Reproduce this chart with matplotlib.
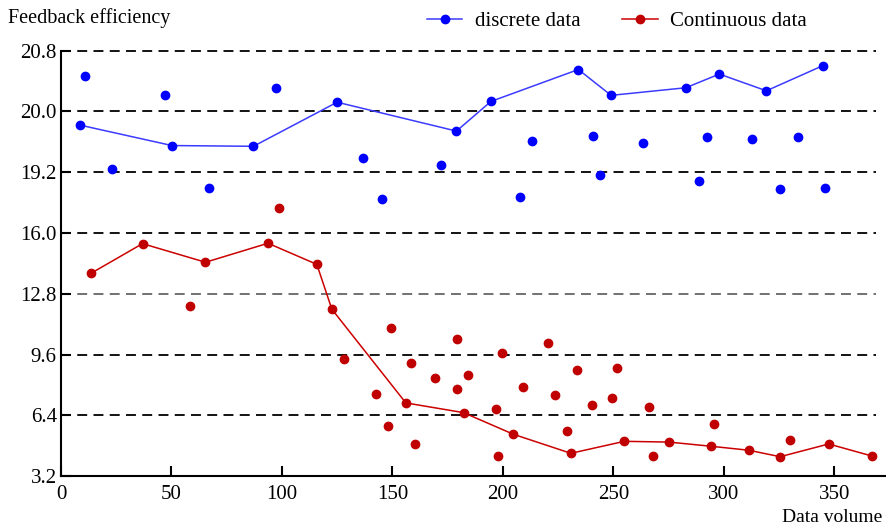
import numpy as np
import matplotlib
matplotlib.use('Agg')
import matplotlib.pyplot as plt
from matplotlib.lines import Line2D

plt.rcParams['font.family'] = ['Liberation Serif', 'DejaVu Serif']

# ------------------------------------------------------------------
# data
# ------------------------------------------------------------------
y_ticks = [3.2, 6.4, 9.6, 12.8, 16.0, 19.2, 20.0, 20.8]
x_ticks = [0, 50, 100, 150, 200, 250, 300, 350]

disc_line_x = [8.4, 50.2, 87.1, 125.0, 179.0, 194.6, 234.2, 249.0, 282.8, 298.0, 319.3, 344.8]
disc_line_y = [19.82, 19.55, 19.54, 20.12, 19.74, 20.13, 20.55, 20.21, 20.31, 20.49, 20.27, 20.60]

disc_pts_x = [10.9, 23.3, 47.2, 67.1, 97.1, 136.8, 145.5, 172.2, 207.6, 213.3,
              240.7, 243.8, 263.3, 289.0, 292.3, 312.8, 333.5, 325.6, 346.0]
disc_pts_y = [20.46, 19.24, 20.21, 18.35, 20.31, 19.38, 17.81, 19.29, 17.89, 19.61,
              19.67, 19.07, 19.59, 18.74, 19.66, 19.63, 19.66, 18.30, 18.38]

cont_line_x = [13.6, 36.9, 65.4, 93.7, 115.8, 122.6, 156.1, 182.2, 204.8, 230.8,
               255.0, 275.2, 294.3, 311.4, 325.5, 347.5, 367.0]
cont_line_y = [13.88, 15.44, 14.46, 15.46, 14.35, 11.99, 7.06, 6.55, 5.41, 4.41,
               5.04, 5.00, 4.78, 4.57, 4.23, 4.90, 4.27]

cont_pts_x = [98.9, 58.6, 128.3, 149.5, 142.5, 148.0, 160.2, 158.4, 169.5, 179.2,
              179.2, 184.3, 199.8, 197.0, 198.0, 208.9, 220.4, 223.8, 229.2, 233.6,
              240.3, 249.6, 251.9, 266.2, 268.1, 295.6, 330.1]
cont_pts_y = [17.31, 12.16, 9.39, 11.02, 7.53, 5.86, 4.88, 9.14, 8.36, 10.42,
              7.78, 8.53, 9.69, 6.74, 4.27, 7.90, 10.21, 7.48, 5.60, 8.79,
              6.97, 7.30, 8.88, 6.85, 4.27, 5.97, 5.09]


# piecewise axis: every tick gets the same height
tick_pos = np.arange(len(y_ticks), dtype=float)


def fwd(v):
    v = np.asarray(v, dtype=float)
    return np.interp(v, y_ticks, tick_pos, left=np.nan, right=np.nan)


def inv(p):
    p = np.asarray(p, dtype=float)
    return np.interp(p, tick_pos, y_ticks)


fig = plt.figure(figsize=(8.86, 5.26), dpi=100)
ax = fig.add_axes([61 / 886, 1 - 476.3 / 526, 1 - 61 / 886, (476.3 - 50.5) / 526])
ax.set_yscale('function', functions=(fwd, inv))

blue_line = '#3b3bff'
blue_dot = '#0000ff'
red_line = '#cc0000'
red_dot = '#c00000'

ax.plot(disc_line_x, disc_line_y, color=blue_line, lw=1.1, marker='o', ms=6,
        mfc=blue_dot, mec=blue_dot, zorder=4)
ax.plot(disc_pts_x, disc_pts_y, ls='none', marker='o', ms=6, mfc=blue_dot, mec=blue_dot, zorder=4)
ax.plot(cont_line_x, cont_line_y, color=red_line, lw=1.1, marker='o', ms=6,
        mfc=red_dot, mec=red_dot, zorder=4)
ax.plot(cont_pts_x, cont_pts_y, ls='none', marker='o', ms=6, mfc=red_dot, mec=red_dot, zorder=4)

x_max = (886 - 60.7) / 2.21
ax.set_xlim(0, x_max)
ax.set_ylim(3.2, 20.8)

for v in y_ticks[1:]:
    ax.axhline(v, xmax=(876 - 61) / (886 - 61), color='#666666' if v == 12.8 else 'black',
               lw=1.3, ls=(0, (5.5, 3.5)), zorder=1, clip_on=False)

ax.set_yticks(y_ticks)
ax.set_yticklabels([f'{v:.1f}' for v in y_ticks])
ax.yaxis.set_minor_locator(plt.NullLocator())
ax.set_xticks(x_ticks)
ax.tick_params(axis='both', direction='in', length=7, width=1.5, labelsize=15, colors='black')
ax.tick_params(axis='y', pad=3)
ax.tick_params(axis='x', pad=6)

for side in ['top', 'right']:
    ax.spines[side].set_visible(False)
for side in ['left', 'bottom']:
    ax.spines[side].set_linewidth(1.5)

fig.text(8 / 886, 1 - 18 / 526, 'Feedback efficiency', fontsize=14.5, va='center', ha='left')
fig.text(882 / 886, 1 - 518 / 526, 'Data volume', fontsize=14, va='center', ha='right')

handles = [
    Line2D([], [], color=blue_line, lw=1.1, marker='o', ms=6, mfc=blue_dot, mec=blue_dot),
    Line2D([], [], color=red_line, lw=1.1, marker='o', ms=6, mfc=red_dot, mec=red_dot),
]
fig.legend(handles, ['discrete data', 'Continuous data'], ncol=2, frameon=False,
           loc='center', bbox_to_anchor=(617 / 886, 1 - 21 / 526), fontsize=15,
           handlelength=1.7, handletextpad=0.6, columnspacing=2.0, borderaxespad=0)

fig.savefig('out.png', dpi=100)
